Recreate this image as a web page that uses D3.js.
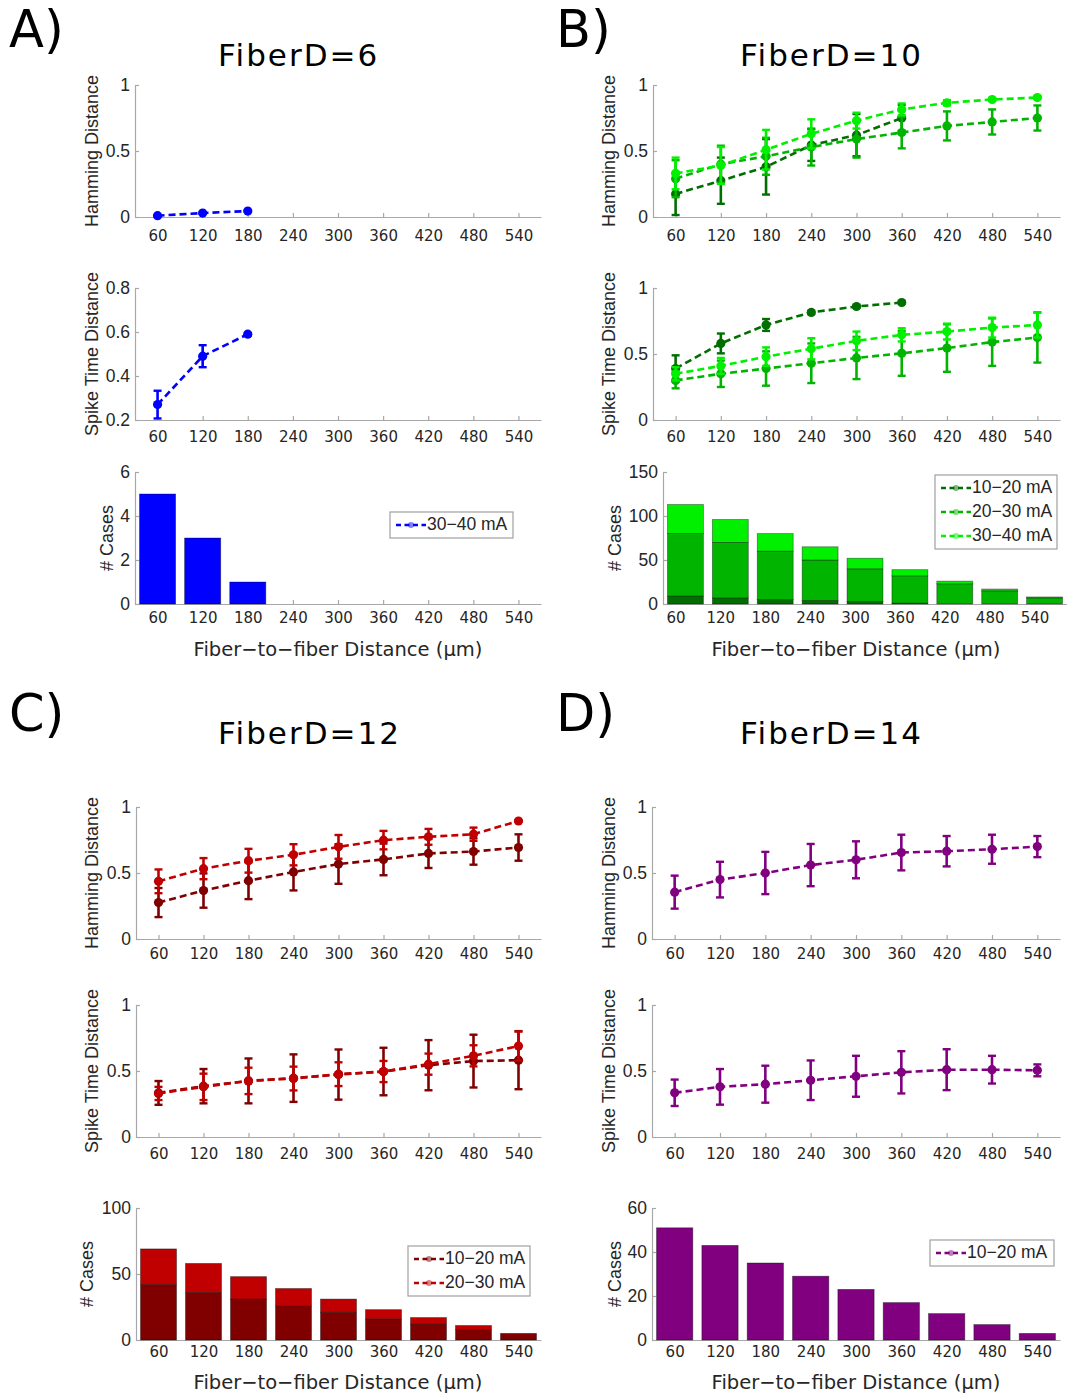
<!DOCTYPE html>
<html><head><meta charset="utf-8">
<script src="https://cdn.jsdelivr.net/npm/d3@7"></script>
<style>
body{margin:0;background:#fff}
svg{display:block}
</style></head><body>
<svg id="fig" width="1067" height="1397"></svg>
<script>
// Fiber-to-fiber distances (µm) shared by every subplot
const distances = [60, 120, 180, 240, 300, 360, 420, 480, 540];

// Stimulation ranges
const rangeLabels = ["10\u221220 mA", "20\u221230 mA", "30\u221240 mA"];

// ---- FiberD = 6 (30-40 mA only) ----
const hamA_30_40 = [0.01, 0.03, 0.045];
const hamA_30_40_err = [0.005, 0.006, 0.006];
const spikeA_30_40 = [0.27, 0.49, 0.59];
const spikeA_30_40_err = [0.063, 0.05, 0.006];
const casesA_30_40 = [5, 3, 1];

// ---- FiberD = 10 ----
const hamB_10_20 = [0.175, 0.275, 0.38, 0.545, 0.62, 0.75];
const hamB_10_20_err = [0.16, 0.175, 0.21, 0.12, 0.16, 0.1];
const hamB_20_30 = [0.29, 0.40, 0.46, 0.53, 0.59, 0.64, 0.69, 0.72, 0.75];
const hamB_20_30_err = [0.14, 0.14, 0.14, 0.14, 0.14, 0.12, 0.11, 0.095, 0.095];
const hamB_30_40 = [0.33, 0.39, 0.51, 0.63, 0.73, 0.815, 0.865, 0.89, 0.905];
const hamB_30_40_err = [0.12, 0.14, 0.15, 0.11, 0.06, 0.045, 0.02, 0.01, 0.01];
const spikeB_10_20 = [0.39, 0.58, 0.72, 0.815, 0.86, 0.89];
const spikeB_10_20_err = [0.1, 0.075, 0.045, 0.012, 0.01, 0.006];
const spikeB_20_30 = [0.30, 0.35, 0.39, 0.43, 0.47, 0.505, 0.545, 0.59, 0.625];
const spikeB_20_30_err = [0.06, 0.1, 0.13, 0.15, 0.16, 0.17, 0.18, 0.18, 0.19];
const spikeB_30_40 = [0.35, 0.41, 0.48, 0.54, 0.60, 0.645, 0.67, 0.70, 0.72];
const spikeB_30_40_err = [0.05, 0.06, 0.07, 0.08, 0.07, 0.05, 0.06, 0.075, 0.095];
const casesB_10_20 = [9, 7, 5, 4, 3, 1, 0, 0, 0];
const casesB_20_30 = [71, 63, 55, 46, 37, 31, 23, 15, 7];
const casesB_30_40 = [33, 26, 20, 15, 12, 7, 3, 2, 1];

// ---- FiberD = 12 ----
const hamC_10_20 = [0.276, 0.367, 0.442, 0.508, 0.568, 0.603, 0.648, 0.663, 0.693];
const hamC_10_20_err = [0.11, 0.13, 0.14, 0.14, 0.15, 0.12, 0.11, 0.1, 0.1];
const hamC_20_30 = [0.437, 0.533, 0.593, 0.638, 0.698, 0.749, 0.774, 0.794, 0.894];
const hamC_20_30_err = [0.09, 0.08, 0.09, 0.08, 0.09, 0.07, 0.06, 0.05, 0.005];
const spikeC_10_20 = [0.334, 0.385, 0.425, 0.446, 0.473, 0.496, 0.544, 0.575, 0.582];
const spikeC_10_20_err = [0.09, 0.13, 0.17, 0.18, 0.19, 0.18, 0.19, 0.2, 0.22];
const spikeC_20_30 = [0.33, 0.38, 0.425, 0.443, 0.476, 0.496, 0.552, 0.615, 0.689];
const spikeC_20_30_err = [0.05, 0.1, 0.1, 0.09, 0.09, 0.08, 0.08, 0.08, 0.11];
const casesC_10_20 = [42, 36, 31, 26, 21, 16, 12, 8, 5];
const casesC_20_30 = [27, 22, 17, 13, 10, 7, 5, 3, 0];

// ---- FiberD = 14 (10-20 mA only) ----
const hamD_10_20 = [0.355, 0.45, 0.50, 0.56, 0.60, 0.655, 0.665, 0.68, 0.70];
const hamD_10_20_err = [0.125, 0.135, 0.16, 0.16, 0.14, 0.135, 0.115, 0.11, 0.08];
const spikeD_10_20 = [0.335, 0.38, 0.40, 0.43, 0.46, 0.49, 0.51, 0.51, 0.505];
const spikeD_10_20_err = [0.1, 0.135, 0.14, 0.15, 0.155, 0.16, 0.155, 0.105, 0.045];
const casesD_10_20 = [51, 43, 35, 29, 23, 17, 12, 7, 3];

// Series colours
const COL = {
  blue: "#0000ff",
  g1: "#006f00", g2: "#00b400", g3: "#00f000",
  r1: "#800000", r2: "#c00000",
  purple: "#800080"
};

const svg = d3.select("#fig");
svg.append("rect").attr("width", 1067).attr("height", 1397).attr("fill", "#fff");

const AXIS_COL = "#a8a8a8";
const TXT_COL = "#262626";
const TICK_FONT = "'DejaVu Sans', Verdana, sans-serif";
const ARIAL = "'Liberation Sans', Arial, sans-serif";

// Axes frame: gray left/bottom spines with inward ticks
function frame(cfg) {
  const g = svg.append("g");
  const x = d3.scaleLinear().domain([30, 570]).range([cfg.left, cfg.right]);
  const y = d3.scaleLinear().domain(cfg.yDomain).range([cfg.bottom, cfg.top]);

  const xa = g.append("g")
    .attr("transform", `translate(0,${cfg.bottom})`)
    .call(d3.axisBottom(x).tickValues(distances).tickFormat(d3.format("d"))
      .tickSizeInner(-4).tickSizeOuter(0).tickPadding(cfg.xPad));
  xa.selectAll("text").attr("dx", cfg.xLabelShift || 0)
    .attr("font-family", TICK_FONT).attr("font-size", 15).attr("fill", TXT_COL);

  const ya = g.append("g")
    .attr("transform", `translate(${cfg.left},0)`)
    .call(d3.axisLeft(y).tickValues(cfg.yTicks).tickFormat(cfg.yFmt)
      .tickSizeInner(-4).tickSizeOuter(0).tickPadding(5));
  ya.selectAll("text").attr("font-family", ARIAL).attr("font-size", 17.5).attr("fill", TXT_COL);

  [xa, ya].forEach(a => {
    a.select(".domain").attr("stroke", AXIS_COL).attr("stroke-width", 1.2);
    a.selectAll(".tick line").attr("stroke", AXIS_COL).attr("stroke-width", 1.2);
  });

  g.append("text")
    .attr("transform", `translate(${cfg.ylabX},${(cfg.top + cfg.bottom) / 2}) rotate(-90)`)
    .attr("text-anchor", "middle").attr("dominant-baseline", "middle")
    .attr("font-family", ARIAL).attr("font-size", 18).attr("fill", TXT_COL)
    .text(cfg.ylabel);

  return { g, x, y };
}

// Dashed line with circular markers and capped error bars
function series(ax, vals, errs, color) {
  const pts = vals.map((v, i) => ({ d: distances[i], v, e: errs[i] }));
  const grp = ax.g.append("g");
  grp.append("path").datum(pts)
    .attr("d", d3.line().x(p => ax.x(p.d)).y(p => ax.y(p.v)))
    .attr("fill", "none").attr("stroke", color).attr("stroke-width", 2.6)
    .attr("stroke-dasharray", "7,4");
  const eb = grp.selectAll(".eb").data(pts).enter().append("g");
  eb.append("line")
    .attr("x1", p => ax.x(p.d)).attr("x2", p => ax.x(p.d))
    .attr("y1", p => ax.y(p.v - p.e)).attr("y2", p => ax.y(p.v + p.e))
    .attr("stroke", color).attr("stroke-width", 2.6);
  [-1, 1].forEach(s => {
    eb.append("line")
      .attr("x1", p => ax.x(p.d) - 4).attr("x2", p => ax.x(p.d) + 4)
      .attr("y1", p => ax.y(p.v + s * p.e)).attr("y2", p => ax.y(p.v + s * p.e))
      .attr("stroke", color).attr("stroke-width", 2.4);
  });
  grp.selectAll("circle").data(pts).enter().append("circle")
    .attr("cx", p => ax.x(p.d)).attr("cy", p => ax.y(p.v)).attr("r", 4.6)
    .attr("fill", color);
}

// Stacked bars of case counts
function bars(ax, layers, colors) {
  const rows = distances.map((d, i) => {
    const r = { d };
    layers.forEach((l, k) => r["s" + k] = l[i] || 0);
    return r;
  });
  const keys = layers.map((l, k) => "s" + k);
  const stacked = d3.stack().keys(keys)(rows);
  const w = ax.x(48) - ax.x(0);
  stacked.forEach((layer, k) => {
    ax.g.append("g").selectAll("rect").data(layer.filter(s => s[1] - s[0] > 0)).enter().append("rect")
      .attr("x", s => ax.x(s.data.d) - w / 2)
      .attr("width", w)
      .attr("y", s => ax.y(s[1]))
      .attr("height", s => ax.y(s[0]) - ax.y(s[1]))
      .attr("fill", colors[k])
      .attr("stroke", "rgba(0,0,0,0.45)").attr("stroke-width", 0.8);
  });
}

function legend(x0, y0, w, labels, colors) {
  const h = labels.length * 24 + 2;
  const g = svg.append("g");
  g.append("rect").attr("x", x0).attr("y", y0).attr("width", w).attr("height", h)
    .attr("fill", "#fff").attr("stroke", "#a0a0a0").attr("stroke-width", 1.2);
  labels.forEach((t, i) => {
    const cy = y0 + 13 + i * 24;
    g.append("line").attr("x1", x0 + 6).attr("x2", x0 + 36).attr("y1", cy).attr("y2", cy)
      .attr("stroke", colors[i]).attr("stroke-width", 2.6).attr("stroke-dasharray", "5,3.5");
    g.append("circle").attr("cx", x0 + 21).attr("cy", cy).attr("r", 3)
      .attr("fill", colors[i]).attr("opacity", 0.5);
    g.append("text").attr("x", x0 + 37).attr("y", cy).attr("dominant-baseline", "middle")
      .attr("font-family", ARIAL).attr("font-size", 17.5).attr("fill", TXT_COL).text(t);
  });
}

function heading(letter, lx, ly, title, tx, ty) {
  svg.append("text").attr("x", lx).attr("y", ly)
    .attr("font-family", TICK_FONT).attr("font-size", 51).attr("fill", "#000").text(letter);
  svg.append("text").attr("x", tx).attr("y", ty)
    .attr("font-family", TICK_FONT).attr("font-size", 31).attr("letter-spacing", 2)
    .attr("fill", "#000").text(title);
}

function xlabel(cx, cy) {
  svg.append("text").attr("x", cx).attr("y", cy).attr("text-anchor", "middle")
    .attr("dominant-baseline", "middle")
    .attr("font-family", TICK_FONT).attr("font-size", 19.5).attr("fill", TXT_COL)
    .text("Fiber\u2212to\u2212fiber Distance (\u00b5m)");
}

const f1 = d3.format("~g");
const unitTicks = [0, 0.5, 1];

// ---------- A) FiberD=6 ----------
heading("A)", 9, 47, "FiberD=6", 218, 66);
{
  const ham = frame({ left: 135, right: 541, top: 85, bottom: 217, yDomain: [0, 1], yTicks: unitTicks, yFmt: f1, xPad: 13.5, ylabX: 93, ylabel: "Hamming Distance" });
  series(ham, hamA_30_40, hamA_30_40_err, COL.blue);
  const sp = frame({ left: 135, right: 541, top: 288, bottom: 420, yDomain: [0.2, 0.8], yTicks: [0.2, 0.4, 0.6, 0.8], yFmt: d3.format(".1f"), xPad: 11.5, ylabX: 93, ylabel: "Spike Time Distance" });
  series(sp, spikeA_30_40, spikeA_30_40_err, COL.blue);
  const hi = frame({ left: 135, right: 541, top: 472, bottom: 604, yDomain: [0, 6], yTicks: [0, 2, 4, 6], yFmt: d3.format("d"), xPad: 8.5, ylabX: 108, ylabel: "# Cases" });
  bars(hi, [casesA_30_40], [COL.blue]);
  legend(390, 512, 123, [rangeLabels[2]], [COL.blue]);
  xlabel(338, 650);
}

// ---------- B) FiberD=10 ----------
heading("B)", 556, 47, "FiberD=10", 740, 66);
{
  const ham = frame({ left: 653, right: 1060, top: 85, bottom: 217, yDomain: [0, 1], yTicks: unitTicks, yFmt: f1, xPad: 13.5, ylabX: 610, ylabel: "Hamming Distance" });
  series(ham, hamB_10_20, hamB_10_20_err, COL.g1);
  series(ham, hamB_20_30, hamB_20_30_err, COL.g2);
  series(ham, hamB_30_40, hamB_30_40_err, COL.g3);
  const sp = frame({ left: 653, right: 1060, top: 288, bottom: 420, yDomain: [0, 1], yTicks: unitTicks, yFmt: f1, xPad: 11.5, ylabX: 610, ylabel: "Spike Time Distance" });
  series(sp, spikeB_10_20, spikeB_10_20_err, COL.g1);
  series(sp, spikeB_20_30, spikeB_20_30_err, COL.g2);
  series(sp, spikeB_30_40, spikeB_30_40_err, COL.g3);
  const hi = frame({ left: 663, right: 1067, top: 472, bottom: 604, yDomain: [0, 150], yTicks: [0, 50, 100, 150], yFmt: d3.format("d"), xPad: 8.5, xLabelShift: -10, ylabX: 616, ylabel: "# Cases" });
  bars(hi, [casesB_10_20, casesB_20_30, casesB_30_40], [COL.g1, COL.g2, COL.g3]);
  legend(935, 475, 122, rangeLabels, [COL.g1, COL.g2, COL.g3]);
  xlabel(856, 650);
}

// ---------- C) FiberD=12 ----------
heading("C)", 9, 731, "FiberD=12", 218, 744);
{
  const ham = frame({ left: 136, right: 541, top: 807, bottom: 939, yDomain: [0, 1], yTicks: unitTicks, yFmt: f1, xPad: 9, ylabX: 93, ylabel: "Hamming Distance" });
  series(ham, hamC_10_20, hamC_10_20_err, COL.r1);
  series(ham, hamC_20_30, hamC_20_30_err, COL.r2);
  const sp = frame({ left: 136, right: 541, top: 1005, bottom: 1137, yDomain: [0, 1], yTicks: unitTicks, yFmt: f1, xPad: 11.5, ylabX: 93, ylabel: "Spike Time Distance" });
  series(sp, spikeC_10_20, spikeC_10_20_err, COL.r1);
  series(sp, spikeC_20_30, spikeC_20_30_err, COL.r2);
  const hi = frame({ left: 136, right: 541, top: 1208, bottom: 1340, yDomain: [0, 100], yTicks: [0, 50, 100], yFmt: d3.format("d"), xPad: 6.5, ylabX: 88, ylabel: "# Cases" });
  bars(hi, [casesC_10_20, casesC_20_30], [COL.r1, COL.r2]);
  legend(408, 1246, 122, rangeLabels.slice(0, 2), [COL.r1, COL.r2]);
  xlabel(338, 1383);
}

// ---------- D) FiberD=14 ----------
heading("D)", 556, 731, "FiberD=14", 740, 744);
{
  const ham = frame({ left: 652, right: 1060, top: 807, bottom: 939, yDomain: [0, 1], yTicks: unitTicks, yFmt: f1, xPad: 9, ylabX: 610, ylabel: "Hamming Distance" });
  series(ham, hamD_10_20, hamD_10_20_err, COL.purple);
  const sp = frame({ left: 652, right: 1060, top: 1005, bottom: 1137, yDomain: [0, 1], yTicks: unitTicks, yFmt: f1, xPad: 11.5, ylabX: 610, ylabel: "Spike Time Distance" });
  series(sp, spikeD_10_20, spikeD_10_20_err, COL.purple);
  const hi = frame({ left: 652, right: 1060, top: 1208, bottom: 1340, yDomain: [0, 60], yTicks: [0, 20, 40, 60], yFmt: d3.format("d"), xPad: 6.5, ylabX: 616, ylabel: "# Cases" });
  bars(hi, [casesD_10_20], [COL.purple]);
  legend(930, 1240, 124, [rangeLabels[0]], [COL.purple]);
  xlabel(856, 1383);
}
</script>
</body></html>
